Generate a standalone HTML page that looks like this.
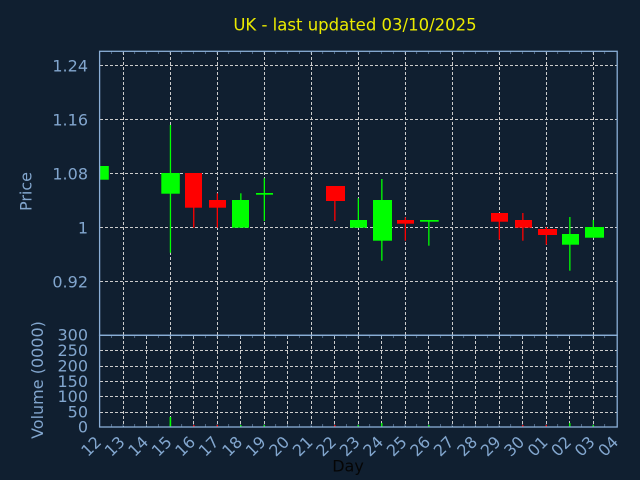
<!DOCTYPE html>
<html><head><meta charset="utf-8"><style>
html,body{margin:0;padding:0;background:#101f30;}
svg{display:block;}
text{font-family:"DejaVu Sans","Liberation Sans",sans-serif;}
</style></head><body>
<svg width="640" height="480" viewBox="0 0 640 480" xmlns="http://www.w3.org/2000/svg">
<defs>
<pattern id="tk" x="99.8" y="0" width="11.75" height="480" patternUnits="userSpaceOnUse">
<rect x="11.25" y="0" width="1" height="480" fill="#8aaed6"/>
</pattern>
<clipPath id="pc"><rect x="100" y="51" width="517" height="284"/></clipPath>
</defs>
<rect x="0" y="0" width="640" height="480" fill="#101f30"/>
<text x="355" y="30.7" text-anchor="middle" font-size="16.5" fill="#eaea00">UK - last updated 03/10/2025</text>

<g stroke="#cccccc" stroke-width="1" stroke-dasharray="3,2" fill="none">
<path d="M100 65.5H617M100 119.5H617M100 173.5H617M100 227.5H617M100 281.5H617"/>
<path d="M123.5 52V335M170.5 52V335M217.5 52V335M264.5 52V335M311.5 52V335M358.5 52V335M405.5 52V335M452.5 52V335M499.5 52V335M546.5 52V335M593.5 52V335"/>
<path d="M100 350.5H617M100 366.5H617M100 381.5H617M100 396.5H617M100 412.5H617"/>
<path d="M123.5 336V427M146.5 336V427M170.5 336V427M193.5 336V427M217.5 336V427M240.5 336V427M264.5 336V427M287.5 336V427M311.5 336V427M334.5 336V427M358.5 336V427M381.5 336V427M405.5 336V427M428.5 336V427M452.5 336V427M475.5 336V427M499.5 336V427M522.5 336V427M546.5 336V427M569.5 336V427M593.5 336V427"/>
</g>

<g clip-path="url(#pc)">
<rect x="90.8" y="166" width="18" height="13.7" fill="#00ff00"/>
<rect x="169.8" y="125" width="1.3" height="127.7" fill="#00ff00"/>
<rect x="161.3" y="173" width="18.5" height="20.7" fill="#00ff00"/>
<rect x="193.1" y="173" width="1.3" height="54.7" fill="#ff0000"/>
<rect x="185" y="173" width="17" height="34.7" fill="#ff0000"/>
<rect x="216.7" y="193.3" width="1.3" height="34.4" fill="#ff0000"/>
<rect x="209" y="200" width="17" height="7.7" fill="#ff0000"/>
<rect x="240.2" y="193.3" width="1.3" height="34.4" fill="#00ff00"/>
<rect x="232" y="200" width="17" height="27.7" fill="#00ff00"/>
<rect x="263.7" y="178.3" width="1.3" height="42.7" fill="#00ff00"/>
<rect x="256" y="193" width="17" height="1.7" fill="#00ff00"/>
<rect x="334.2" y="186" width="1.3" height="35" fill="#ff0000"/>
<rect x="326" y="186" width="19" height="15" fill="#ff0000"/>
<rect x="357.7" y="198.3" width="1.3" height="29.4" fill="#00ff00"/>
<rect x="350" y="220" width="17" height="7.7" fill="#00ff00"/>
<rect x="381.2" y="179" width="1.3" height="81.7" fill="#00ff00"/>
<rect x="373" y="200" width="19" height="40.7" fill="#00ff00"/>
<rect x="404.7" y="217.3" width="1.3" height="23.4" fill="#ff0000"/>
<rect x="397" y="220" width="17" height="3.7" fill="#ff0000"/>
<rect x="428.2" y="220" width="1.3" height="25.7" fill="#00ff00"/>
<rect x="420" y="220" width="18.7" height="1.7" fill="#00ff00"/>
<rect x="498.7" y="213" width="1.3" height="26.7" fill="#ff0000"/>
<rect x="491" y="213" width="17" height="8.7" fill="#ff0000"/>
<rect x="522.2" y="213" width="1.3" height="27.7" fill="#ff0000"/>
<rect x="515" y="220" width="17" height="7.7" fill="#ff0000"/>
<rect x="545.7" y="227" width="1.3" height="17.7" fill="#ff0000"/>
<rect x="538" y="229" width="19" height="6" fill="#ff0000"/>
<rect x="569.2" y="217" width="1.3" height="53.7" fill="#00ff00"/>
<rect x="562" y="234" width="17" height="10.7" fill="#00ff00"/>
<rect x="592.7" y="220" width="1.3" height="17.7" fill="#00ff00"/>
<rect x="585" y="227" width="19" height="10.7" fill="#00ff00"/>
</g>

<rect x="101" y="51" width="515" height="3" fill="url(#tk)"/>
<rect x="101" y="335" width="515" height="3" fill="url(#tk)"/>
<rect x="101" y="424" width="515" height="3" fill="url(#tk)"/>

<rect x="169.6" y="417" width="1.6" height="10" fill="#00ff00"/>
<rect x="193.1" y="425" width="1.4" height="2" fill="#ff0000"/>
<rect x="216.6" y="425" width="1.4" height="2" fill="#ff0000"/>
<rect x="240.1" y="425" width="1.4" height="2" fill="#00ff00"/>
<rect x="263.6" y="425" width="1.4" height="2" fill="#00ff00"/>
<rect x="334.1" y="425" width="1.4" height="2" fill="#ff0000"/>
<rect x="357.6" y="425" width="1.4" height="2" fill="#00ff00"/>
<rect x="381.1" y="423" width="1.4" height="4" fill="#00ff00"/>
<rect x="428.1" y="425" width="1.4" height="2" fill="#00ff00"/>
<rect x="522.1" y="425" width="1.4" height="2" fill="#ff0000"/>
<rect x="545.6" y="425" width="1.4" height="2" fill="#ff0000"/>
<rect x="569.1" y="423" width="1.4" height="4" fill="#00ff00"/>
<rect x="592.6" y="425" width="1.4" height="2" fill="#00ff00"/>

<g stroke="#8aaed6" stroke-width="1.3" fill="none">
<rect x="99.6" y="51.3" width="517.6" height="284"/>
<rect x="99.6" y="335.3" width="517.6" height="91.7"/>
</g>

<g font-size="16" fill="#82a6ce" text-anchor="end">
<text x="88" y="71.3">1.24</text>
<text x="88" y="125.3">1.16</text>
<text x="88" y="179.3">1.08</text>
<text x="88" y="233.3">1</text>
<text x="88" y="287.3">0.92</text>
<text x="88" y="340.5">300</text>
<text x="88" y="356">250</text>
<text x="88" y="371.5">200</text>
<text x="88" y="387">150</text>
<text x="88" y="402">100</text>
<text x="88" y="417.5">50</text>
<text x="88" y="432.5">0</text>
</g>
<text transform="translate(31.5,191.5) rotate(-90)" text-anchor="middle" font-size="16" fill="#82a6ce">Price</text>
<text transform="translate(43,380) rotate(-90)" text-anchor="middle" font-size="16" fill="#82a6ce">Volume (0000)</text>

<g font-size="16" fill="#82a6ce" text-anchor="end">
<text transform="translate(102.3,443) rotate(-45)">12</text>
<text transform="translate(125.8,443) rotate(-45)">13</text>
<text transform="translate(149.3,443) rotate(-45)">14</text>
<text transform="translate(172.8,443) rotate(-45)">15</text>
<text transform="translate(196.3,443) rotate(-45)">16</text>
<text transform="translate(219.8,443) rotate(-45)">17</text>
<text transform="translate(243.3,443) rotate(-45)">18</text>
<text transform="translate(266.8,443) rotate(-45)">19</text>
<text transform="translate(290.3,443) rotate(-45)">20</text>
<text transform="translate(313.8,443) rotate(-45)">21</text>
<text transform="translate(337.3,443) rotate(-45)">22</text>
<text transform="translate(360.8,443) rotate(-45)">23</text>
<text transform="translate(384.3,443) rotate(-45)">24</text>
<text transform="translate(407.8,443) rotate(-45)">25</text>
<text transform="translate(431.3,443) rotate(-45)">26</text>
<text transform="translate(454.8,443) rotate(-45)">27</text>
<text transform="translate(478.3,443) rotate(-45)">28</text>
<text transform="translate(501.8,443) rotate(-45)">29</text>
<text transform="translate(525.3,443) rotate(-45)">30</text>
<text transform="translate(548.8,443) rotate(-45)">01</text>
<text transform="translate(572.3,443) rotate(-45)">02</text>
<text transform="translate(595.8,443) rotate(-45)">03</text>
<text transform="translate(619.3,443) rotate(-45)">04</text>
</g>
<text x="348" y="471.5" text-anchor="middle" font-size="16" fill="#050505">Day</text>
</svg>
</body></html>
